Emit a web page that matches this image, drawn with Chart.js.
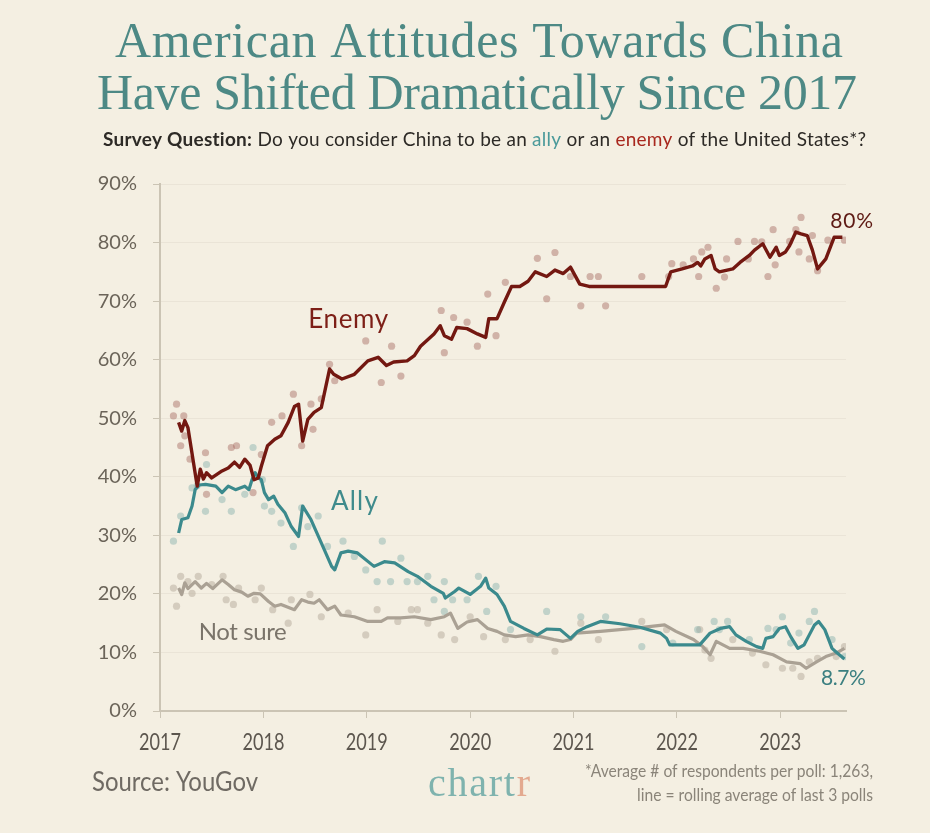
<!DOCTYPE html>
<html>
<head>
<meta charset="utf-8">
<script src="https://cdn.jsdelivr.net/npm/chart.js@4.4.1/dist/chart.umd.min.js"></script>
<style>
  html, body { margin: 0; padding: 0; background: #f4efe2; }
  #wrap { position: relative; width: 930px; height: 833px; }
</style>
</head>
<body>
<div id="wrap"><canvas id="chart" width="930" height="833"></canvas></div>
<script>
// Axis ticks
const yearTicks = [2017, 2018, 2019, 2020, 2021, 2022, 2023];

// Rolling average lines (decimal year / percent)
const enemyYears = [2017.18, 2017.21, 2017.24, 2017.27, 2017.36, 2017.39, 2017.42, 2017.45, 2017.50, 2017.60,
  2017.66, 2017.72, 2017.77, 2017.82, 2017.87, 2017.91, 2017.95, 2017.98, 2018.04, 2018.11,
  2018.17, 2018.24, 2018.30, 2018.34, 2018.38, 2018.43, 2018.49, 2018.56, 2018.64, 2018.68,
  2018.76, 2018.88, 2019.01, 2019.11, 2019.19, 2019.26, 2019.39, 2019.46, 2019.52, 2019.65,
  2019.71, 2019.75, 2019.82, 2019.87, 2019.97, 2020.07, 2020.15, 2020.18, 2020.26, 2020.33,
  2020.40, 2020.48, 2020.56, 2020.63, 2020.74, 2020.82, 2020.90, 2020.97, 2021.06, 2021.15,
  2021.89, 2021.94, 2022.05, 2022.15, 2022.20, 2022.23, 2022.27, 2022.33, 2022.37, 2022.41,
  2022.54, 2022.61, 2022.70, 2022.75, 2022.83, 2022.90, 2022.96, 2022.99, 2023.05, 2023.09,
  2023.15, 2023.20, 2023.26, 2023.31, 2023.36, 2023.44, 2023.52, 2023.60];
const enemyLine = [49.3, 47.8, 49.6, 48.4, 38.4, 41.3, 39.6, 40.7, 39.8, 41.0,
  41.5, 42.5, 41.6, 43.0, 42.0, 39.5, 39.8, 41.8, 45.3, 46.4,
  47.0, 49.3, 52.0, 52.4, 46.1, 49.8, 51.0, 51.8, 58.4, 57.5,
  56.7, 57.5, 59.8, 60.4, 59.0, 59.6, 59.8, 60.7, 62.3, 64.4,
  65.8, 64.1, 63.5, 65.5, 65.3, 64.4, 63.8, 67.0, 67.0, 69.8,
  72.5, 72.5, 73.4, 75.0, 74.2, 75.3, 74.7, 75.8, 72.9, 72.5,
  72.5, 75.0, 75.5, 76.0, 76.6, 76.0, 77.2, 77.8, 75.5, 75.0,
  75.5, 76.6, 77.8, 78.7, 79.8, 77.5, 79.2, 77.8, 78.4, 79.5,
  81.8, 81.5, 81.2, 78.7, 75.5, 77.2, 80.9, 80.9];

const allyYears = [2017.18, 2017.21, 2017.27, 2017.31, 2017.34, 2017.38, 2017.44, 2017.54, 2017.60, 2017.66,
  2017.73, 2017.82, 2017.86, 2017.89, 2017.92, 2017.95, 2017.98, 2018.01, 2018.05, 2018.10,
  2018.14, 2018.21, 2018.27, 2018.34, 2018.38, 2018.46, 2018.56, 2018.66, 2018.69, 2018.75,
  2018.82, 2018.91, 2019.07, 2019.17, 2019.27, 2019.40, 2019.49, 2019.62, 2019.74, 2019.76,
  2019.85, 2019.89, 2020.00, 2020.10, 2020.15, 2020.18, 2020.26, 2020.33, 2020.39, 2020.52,
  2020.65, 2020.74, 2020.87, 2020.97, 2021.04, 2021.13, 2021.26, 2021.45, 2021.64, 2021.84,
  2021.90, 2021.93, 2022.06, 2022.22, 2022.32, 2022.42, 2022.51, 2022.57, 2022.67, 2022.77,
  2022.83, 2022.86, 2022.93, 2022.99, 2023.05, 2023.10, 2023.17, 2023.23, 2023.28, 2023.33,
  2023.37, 2023.43, 2023.50, 2023.55, 2023.62];
const allyLine = [30.4, 32.7, 33.0, 35.0, 37.8, 38.6, 38.7, 38.4, 37.3, 38.4,
  37.8, 38.4, 37.8, 39.5, 40.7, 39.8, 39.5, 37.3, 36.1, 36.7,
  35.3, 33.8, 31.5, 29.8, 35.0, 32.7, 28.7, 24.7, 24.1, 27.0,
  27.3, 27.0, 24.7, 25.5, 25.3, 23.8, 23.0, 21.3, 20.1, 19.3,
  20.4, 21.0, 19.9, 21.3, 22.7, 21.0, 19.9, 17.9, 15.3, 14.1,
  13.0, 14.0, 13.9, 12.4, 13.6, 14.4, 15.3, 14.9, 14.3, 13.3,
  12.4, 11.3, 11.3, 11.3, 13.3, 14.1, 14.4, 13.0, 11.9, 11.0,
  10.7, 12.4, 12.7, 14.1, 14.4, 12.7, 10.7, 11.3, 13.0, 14.7,
  15.3, 13.9, 10.7, 9.9, 8.9];

const notSureYears = [2017.18, 2017.21, 2017.24, 2017.27, 2017.34, 2017.40, 2017.45, 2017.51, 2017.60, 2017.66,
  2017.72, 2017.79, 2017.85, 2017.91, 2017.97, 2018.05, 2018.11, 2018.17, 2018.30, 2018.37,
  2018.43, 2018.49, 2018.54, 2018.62, 2018.69, 2018.75, 2018.88, 2019.01, 2019.14, 2019.20,
  2019.33, 2019.46, 2019.62, 2019.75, 2019.81, 2019.88, 2019.97, 2020.07, 2020.17, 2020.26,
  2020.33, 2020.44, 2020.56, 2020.68, 2020.81, 2020.90, 2020.97, 2021.03, 2021.26, 2021.58,
  2021.88, 2021.99, 2022.16, 2022.25, 2022.32, 2022.38, 2022.51, 2022.64, 2022.80, 2022.93,
  2023.06, 2023.19, 2023.25, 2023.35, 2023.44, 2023.54, 2023.62];
const notSureLine = [21.0, 19.9, 21.9, 20.9, 22.1, 21.0, 21.8, 20.9, 22.4, 21.6,
  20.7, 20.3, 19.6, 20.1, 20.0, 18.7, 17.9, 18.2, 17.3, 19.0,
  18.6, 18.4, 19.0, 17.3, 17.9, 16.4, 16.1, 15.3, 15.3, 15.9,
  15.9, 16.1, 15.6, 16.1, 16.7, 14.1, 15.2, 15.6, 14.1, 13.6,
  13.0, 12.7, 13.0, 12.7, 12.2, 11.9, 12.2, 13.3, 13.6, 14.1,
  14.7, 13.6, 12.2, 11.0, 9.6, 11.9, 10.7, 10.7, 10.2, 9.6,
  8.4, 8.1, 7.3, 8.4, 9.3, 9.9, 10.7];

// Individual polls (dots)
const enemyPollYears = [2017.13, 2017.16, 2017.20, 2017.23, 2017.24, 2017.29, 2017.44, 2017.45, 2017.69, 2017.74,
  2017.90, 2017.98, 2018.08, 2018.18, 2018.29, 2018.37, 2018.46, 2018.48, 2018.56, 2018.64,
  2018.69, 2018.99, 2019.14, 2019.24, 2019.33, 2019.72, 2019.75, 2019.84, 2019.97, 2020.07,
  2020.17, 2020.25, 2020.34, 2020.65, 2020.74, 2020.82, 2020.97, 2021.07, 2021.16, 2021.24,
  2021.31, 2021.66, 2021.92, 2021.95, 2022.06, 2022.16, 2022.21, 2022.24, 2022.30, 2022.38,
  2022.46, 2022.48, 2022.59, 2022.69, 2022.75, 2022.82, 2022.88, 2022.93, 2022.95, 2023.09,
  2023.15, 2023.18, 2023.20, 2023.28, 2023.31, 2023.36, 2023.46, 2023.62];
const enemyPolls = [50.4, 52.4, 45.3, 50.4, 47.0, 43.0, 44.1, 37.0, 45.0, 45.3,
  37.3, 43.8, 49.3, 50.4, 54.1, 45.3, 52.4, 48.1, 53.3, 59.2,
  56.4, 63.2, 56.1, 62.3, 57.2, 68.4, 61.2, 67.2, 66.4, 62.3,
  71.2, 64.1, 73.2, 77.3, 70.4, 78.3, 74.2, 69.2, 74.2, 74.2,
  69.2, 74.2, 74.2, 76.4, 76.2, 77.2, 74.2, 78.4, 79.2, 72.2,
  74.1, 77.2, 80.2, 77.2, 80.2, 80.1, 74.2, 82.2, 76.2, 80.2,
  82.2, 78.4, 84.3, 77.2, 81.2, 75.2, 80.4, 80.4];

const allyPollYears = [2017.13, 2017.20, 2017.31, 2017.36, 2017.44, 2017.45, 2017.60, 2017.69, 2017.82, 2017.90,
  2017.99, 2018.01, 2018.08, 2018.17, 2018.29, 2018.37, 2018.43, 2018.53, 2018.62, 2018.77,
  2018.88, 2018.99, 2019.10, 2019.15, 2019.23, 2019.33, 2019.39, 2019.49, 2019.59, 2019.65,
  2019.75, 2019.75, 2019.83, 2019.97, 2020.08, 2020.16, 2020.25, 2020.39, 2020.74, 2021.07,
  2021.31, 2021.66, 2021.96, 2022.20, 2022.36, 2022.41, 2022.49, 2022.70, 2022.88, 2022.96,
  2023.02, 2023.10, 2023.18, 2023.28, 2023.33, 2023.50, 2023.62];
const allyPolls = [29.0, 33.3, 38.1, 38.5, 34.1, 42.1, 36.1, 34.1, 37.0, 45.0,
  39.5, 35.0, 34.1, 32.1, 28.1, 34.7, 31.5, 33.3, 28.1, 29.0,
  26.4, 24.1, 22.1, 29.0, 22.1, 26.1, 22.1, 22.1, 23.0, 19.0,
  22.1, 17.0, 19.0, 19.0, 23.0, 17.0, 21.3, 13.9, 17.0, 16.1,
  16.1, 11.0, 11.6, 13.9, 15.3, 13.9, 15.3, 12.2, 14.1, 13.9,
  16.1, 11.6, 13.3, 15.3, 17.0, 12.2, 9.3];

const notSurePollYears = [2017.13, 2017.16, 2017.20, 2017.27, 2017.31, 2017.37, 2017.50, 2017.61, 2017.64, 2017.71,
  2017.76, 2017.92, 2017.98, 2018.09, 2018.24, 2018.27, 2018.45, 2018.56, 2018.82, 2018.99,
  2019.10, 2019.30, 2019.43, 2019.49, 2019.59, 2019.72, 2019.85, 2020.00, 2020.13, 2020.34,
  2020.58, 2020.82, 2021.07, 2021.24, 2021.66, 2021.90, 2022.22, 2022.27, 2022.33, 2022.54,
  2022.73, 2022.86, 2023.02, 2023.12, 2023.20, 2023.28, 2023.36, 2023.54, 2023.62];
const notSurePolls = [21.0, 17.9, 23.0, 22.1, 20.1, 23.0, 21.6, 23.0, 19.0, 18.2,
  21.0, 19.0, 21.0, 17.3, 15.0, 19.0, 19.9, 16.1, 16.7, 13.0,
  17.3, 15.3, 17.3, 17.3, 15.0, 13.0, 12.2, 16.1, 12.7, 12.2,
  12.2, 10.2, 15.0, 12.2, 15.3, 13.9, 13.9, 10.4, 9.0, 12.2,
  9.9, 7.9, 7.3, 7.3, 5.9, 8.4, 9.0, 9.3, 11.0];

// Direct labels placed in data space
const seriesLabels = [
  { text: 'Enemy',    x: 2018.82, y: 65.4, w: 80, size: 26, color: '#7d1f17' },
  { text: 'Ally',     x: 2018.88, y: 34.4, w: 47, size: 26, color: '#3f8b8c' },
  { text: 'Not sure', x: 2017.80, y: 12.2, w: 88, size: 24, color: '#7a746a' },
  { text: '80%',      x: 2023.69, y: 82.5, w: 43, size: 21, color: '#5e1a14' },
  { text: '8.7%',     x: 2023.61, y: 4.5,  w: 45, size: 21, color: '#3b7f80' }
];

const SANS = 'Lato, "Open Sans", sans-serif';
const SERIF = '"Liberation Serif", "DejaVu Serif", serif';
const AXIS = '#cbc4b4';

function pts(xs, ys) {
  return xs.map((x, i) => ({ x: x, y: ys[i] }));
}

// draw text fitted to a given width, either by letter spacing or by squeezing the glyphs
function drawFitted(ctx, parts, x, y, width, align, squeeze) {
  ctx.save();
  let natural = 0, count = 0;
  parts.forEach(p => {
    ctx.font = p.font;
    natural += ctx.measureText(p.text).width;
    count += p.text.length;
  });
  const left = align === 'center' ? x - width / 2 : align === 'right' ? x - width : x;
  ctx.textAlign = 'left';
  ctx.textBaseline = 'alphabetic';
  if (squeeze) {
    ctx.translate(left, y);
    ctx.scale(width / natural, 1);
    let cx = 0;
    parts.forEach(p => {
      ctx.font = p.font;
      ctx.fillStyle = p.color;
      ctx.fillText(p.text, cx, 0);
      cx += ctx.measureText(p.text).width;
    });
  } else {
    const ls = (width - natural) / Math.max(count - 1, 1);
    let cx = left;
    parts.forEach(p => {
      ctx.font = p.font;
      ctx.fillStyle = p.color;
      const w = ctx.measureText(p.text).width;
      ctx.letterSpacing = ls + 'px';
      ctx.fillText(p.text, cx, y);
      ctx.letterSpacing = '0px';
      cx += w + ls * p.text.length;
    });
  }
  ctx.restore();
}

const textPlugin = {
  id: 'texts',
  afterDraw(chart) {
    const ctx = chart.ctx;
    const xs = chart.scales.x, ys = chart.scales.y;

    // title + subtitle
    const tColor = '#4d8985';
    drawFitted(ctx, [{ text: 'American Attitudes Towards China', font: '50px ' + SERIF, color: tColor }], 479, 57, 728, 'center');
    drawFitted(ctx, [{ text: 'Have Shifted Dramatically Since 2017', font: '50px ' + SERIF, color: tColor }], 477, 109, 760, 'center');
    const sub = '19px ' + SANS;
    drawFitted(ctx, [
      { text: 'Survey Question: ', font: 'bold ' + sub, color: '#2d2a26' },
      { text: 'Do you consider China to be an ', font: sub, color: '#2d2a26' },
      { text: 'ally', font: sub, color: '#4b9a9a' },
      { text: ' or an ', font: sub, color: '#2d2a26' },
      { text: 'enemy', font: sub, color: '#a8281e' },
      { text: ' of the United States*?', font: sub, color: '#2d2a26' }
    ], 103, 146, 763, 'left');

    // x tick labels, narrow like the original
    xs.ticks.forEach(t => {
      drawFitted(ctx, [{ text: String(t.value), font: '23px ' + SANS, color: '#5c564e' }],
        xs.getPixelForValue(t.value), 750, 42, 'center', true);
    });

    // series labels
    seriesLabels.forEach(l => {
      drawFitted(ctx, [{ text: l.text, font: l.size + 'px ' + SANS, color: l.color }],
        xs.getPixelForValue(l.x), ys.getPixelForValue(l.y), l.w, 'center');
    });

    // footer
    drawFitted(ctx, [{ text: 'Source: YouGov', font: '26px ' + SANS, color: '#6f6a63' }], 92, 791, 166, 'left', true);
    drawFitted(ctx, [
      { text: 'chart', font: '40px ' + SERIF, color: '#7fb3ae' },
      { text: 'r', font: '40px ' + SERIF, color: '#e3a98f' }
    ], 428, 796, 102, 'left');
    drawFitted(ctx, [{ text: '*Average # of respondents per poll: 1,263,', font: '18px ' + SANS, color: '#8a8479' }], 873, 777, 288, 'right', true);
    drawFitted(ctx, [{ text: 'line = rolling average of last 3 polls', font: '18px ' + SANS, color: '#8a8479' }], 873, 801, 236, 'right', true);
  }
};

function lineSet(label, xs, ys, color, width, order) {
  return {
    type: 'line', label: label, data: pts(xs, ys),
    borderColor: color, borderWidth: width, pointRadius: 0,
    tension: 0, fill: false, order: order, borderJoinStyle: 'round'
  };
}

function dotSet(label, xs, ys, color) {
  return {
    type: 'scatter', label: label, data: pts(xs, ys),
    backgroundColor: color, borderWidth: 0, pointRadius: 3.6, order: 10
  };
}

new Chart(document.getElementById('chart'), {
  data: {
    datasets: [
      lineSet('Enemy', enemyYears, enemyLine, '#731811', 3.4, 1),
      lineSet('Ally', allyYears, allyLine, '#3b8a8d', 3.2, 2),
      lineSet('Not sure', notSureYears, notSureLine, '#aaa194', 3.2, 3),
      dotSet('Enemy polls', enemyPollYears, enemyPolls, 'rgba(165,105,95,0.45)'),
      dotSet('Ally polls', allyPollYears, allyPolls, 'rgba(130,175,170,0.45)'),
      dotSet('Not sure polls', notSurePollYears, notSurePolls, 'rgba(185,175,160,0.55)')
    ]
  },
  options: {
    responsive: false,
    animation: false,
    layout: { padding: { top: 184, right: 84, bottom: 0, left: 0 } },
    plugins: { legend: { display: false }, tooltip: { enabled: false } },
    scales: {
      x: {
        type: 'linear',
        min: 2017,
        max: 2023.635,
        afterBuildTicks: s => { s.ticks = yearTicks.map(v => ({ value: v })); },
        afterFit: s => { s.height = 122; },
        ticks: {
          callback: v => String(v),
          font: { family: SANS, size: 20 },
          color: 'rgba(0,0,0,0)', // labels drawn by the text plugin
          padding: 12,
          maxRotation: 0
        },
        grid: { drawOnChartArea: false, drawTicks: true, tickLength: 7, tickColor: AXIS },
        border: { display: true, color: AXIS, width: 2 }
      },
      y: {
        min: 0,
        max: 90,
        afterFit: s => { s.width = 160; },
        ticks: {
          stepSize: 10,
          callback: v => v + '%',
          font: { family: SANS, size: 20 },
          color: '#6b6459',
          padding: 16
        },
        grid: { color: 'rgba(150,140,120,0.10)', tickColor: AXIS, tickLength: 7, lineWidth: 1 },
        border: { display: true, color: AXIS, width: 2 }
      }
    }
  },
  plugins: [textPlugin]
});
</script>
</body>
</html>
